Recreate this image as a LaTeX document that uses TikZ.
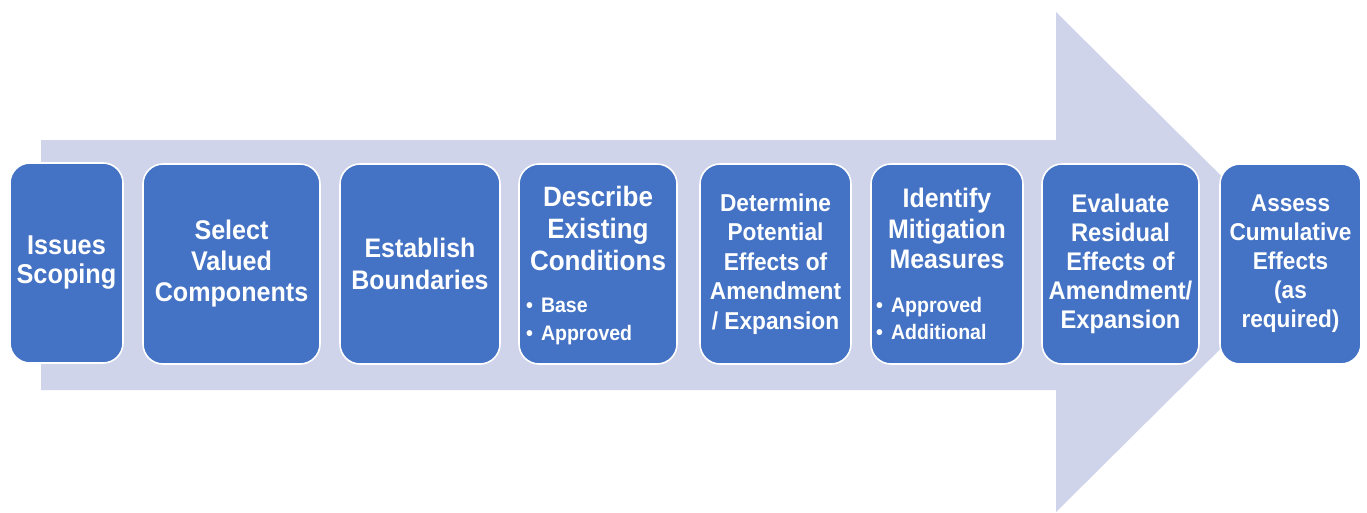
\documentclass[tikz,border=0pt]{standalone}
\usepackage{fontspec}
\setmainfont{Liberation Sans}[FakeStretch=0.93]
\definecolor{stageblue}{HTML}{4472C4}
\definecolor{arrowfill}{HTML}{CFD4EA}
\begin{document}
\begin{tikzpicture}[x=1pt,y=-1pt,
  stagebox/.style={draw=white, line width=1.6pt, fill=stageblue,
    rounded corners=20pt, inner sep=0pt},
  stagetext/.style={text=white, align=center, inner sep=0pt},
  bullettext/.style={text=white, align=left, inner sep=0pt, anchor=north west,
    font=\bfseries\fontsize{21}{27.5}\selectfont},
]
\useasboundingbox (0,0) rectangle (1367,512);

% process arrow in the background
\fill[arrowfill] (41,140) -- (1056,140) -- (1056,12) -- (1308,262)
  -- (1056,512) -- (1056,390) -- (41,390) -- cycle;

% stage boxes: left, right, top, bottom
\newcommand{\stagebox}[5]{%
  \node[stagebox, minimum width={#3-#2}, minimum height={#5-#4}]
    (#1) at ({(#2+#3)/2},{(#4+#5)/2}) {};}
\stagebox{s1}{10}{123}{163}{363}
\stagebox{s2}{143}{320}{164}{364}
\stagebox{s3}{340}{500}{164}{364}
\stagebox{s4}{519}{677}{164}{364}
\stagebox{s5}{700}{851}{164}{364}
\stagebox{s6}{871}{1023}{164}{364}
\stagebox{s7}{1042}{1199}{164}{364}
\stagebox{s8}{1220}{1361}{164}{364}

% stage titles
\node[stagetext, font=\bfseries\fontsize{27.2}{29}\selectfont] (t1) at (s1.center)
  {Issues\\Scoping};
\node[stagetext, font=\bfseries\fontsize{27}{31}\selectfont] (t2) at (s2.center)
  {Select\\Valued\\Components};
\node[stagetext, font=\bfseries\fontsize{26.8}{32}\selectfont] (t3) at (s3.center)
  {Establish\\Boundaries};
\node[stagetext, anchor=north, font=\bfseries\fontsize{28}{32}\selectfont] (t4)
  at ([yshift=-23]s4.north) {Describe\\Existing\\Conditions};
\node[stagetext, font=\bfseries\fontsize{24.4}{29.5}\selectfont] (t5) at (s5.center)
  {Determine\\Potential\\Effects of\\Amendment\\/ Expansion};
\node[stagetext, anchor=north, font=\bfseries\fontsize{26.8}{30.5}\selectfont] (t6)
  at ([yshift=-25]s6.north) {Identify\\Mitigation\\Measures};
\node[stagetext, font=\bfseries\fontsize{25.5}{29}\selectfont] (t7) at (s7.center)
  {Evaluate\\Residual\\Effects of\\Amendment/\\Expansion};
\node[stagetext, font=\bfseries\fontsize{24.3}{29}\selectfont] (t8) at (s8.center)
  {Assess\\Cumulative\\Effects\\(as\\required)};

% bullet lists
\node[bullettext] (b4) at (526,298) {•\hspace{8pt}Base\\•\hspace{8pt}Approved};
\node[bullettext] (b6) at (876,297) {•\hspace{8pt}Approved\\•\hspace{8pt}Additional};
\end{tikzpicture}
\end{document}
